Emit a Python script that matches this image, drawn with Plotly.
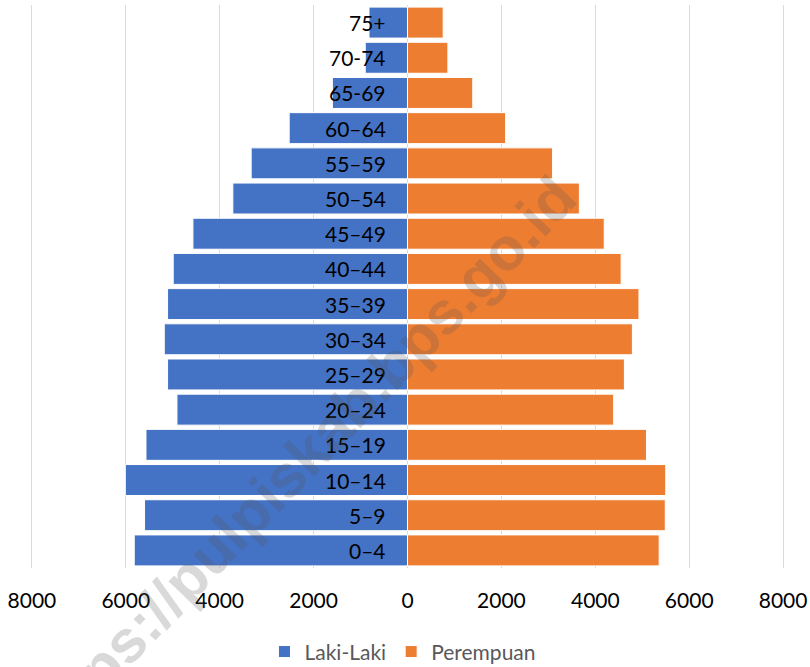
import plotly.graph_objects as go

age_groups = ["0–4", "5–9", "10–14", "15–19", "20–24", "25–29", "30–34", "35–39",
              "40–44", "45–49", "50–54", "55–59", "60–64", "65-69", "70-74", "75+"]
male = [5820, 5600, 6010, 5570, 4910, 5110, 5180, 5110,
        4990, 4570, 3720, 3330, 2520, 1600, 900, 820]
female = [5360, 5490, 5500, 5090, 4390, 4620, 4790, 4930,
          4550, 4190, 3660, 3090, 2090, 1390, 860, 760]
tick_vals = [-8000, -6000, -4000, -2000, 0, 2000, 4000, 6000, 8000]
tick_text = ["8000", "6000", "4000", "2000", "0", "2000", "4000", "6000", "8000"]
watermark = "https://pulpiskab.bps.go.id"

FONT = "Lato"

fig = go.Figure()
fig.add_trace(go.Bar(
    y=age_groups, x=[-v for v in male], orientation="h", name="Laki-Laki",
    marker=dict(color="#4472C4", line=dict(color="white", width=1)),
))
fig.add_trace(go.Bar(
    y=age_groups, x=female, orientation="h", name="Perempuan",
    marker=dict(color="#ED7D31", line=dict(color="white", width=1)),
))

annotations = []
for g in age_groups:
    annotations.append(dict(
        x=0, y=g, xref="x", yref="y", text=g, showarrow=False,
        xanchor="right", yanchor="middle", xshift=-20,
        font=dict(family=FONT, size=21, color="#000000"),
    ))
annotations.append(dict(
    x=0.357, y=0.19, xref="paper", yref="paper", text="<b>" + watermark + "</b>",
    showarrow=False, textangle=-46, xanchor="center", yanchor="middle",
    font=dict(family="Liberation Sans", size=60, color="rgba(80,80,80,0.22)"),
))

# plot area: x=-8000 at px 32, x=8000 at px 783 ; pad range slightly so edge gridlines show
pad = 40
fig.update_layout(
    width=810, height=667,
    margin=dict(l=32 - pad * 751 / 16000, r=27 - pad * 751 / 16000, t=5, b=99, autoexpand=False),
    paper_bgcolor="white", plot_bgcolor="white",
    barmode="relative", bargap=0.12,
    showlegend=True,
    legend=dict(orientation="h", x=0.494, y=-0.149, xanchor="center", yanchor="middle",
                font=dict(family=FONT, size=21, color="#595959"),
                traceorder="normal", itemclick=False, itemwidth=30),
    xaxis=dict(range=[-8000 - pad, 8000 + pad], tickvals=tick_vals, ticktext=tick_text,
               showgrid=True, gridcolor="#d9d9d9", gridwidth=1,
               zeroline=False, showline=False, ticks="", automargin=False,
               ticklabelstandoff=18,
               tickfont=dict(family=FONT, size=21, color="#000000")),
    yaxis=dict(showticklabels=False, showgrid=False, zeroline=False, showline=False,
               ticks="", automargin=False, categoryorder="array", categoryarray=age_groups),
    annotations=annotations,
    font=dict(family=FONT),
)

fig.write_html("out.html", config={"displayModeBar": False},
               post_script="document.body.style.margin='0';document.body.style.overflow='hidden';")
